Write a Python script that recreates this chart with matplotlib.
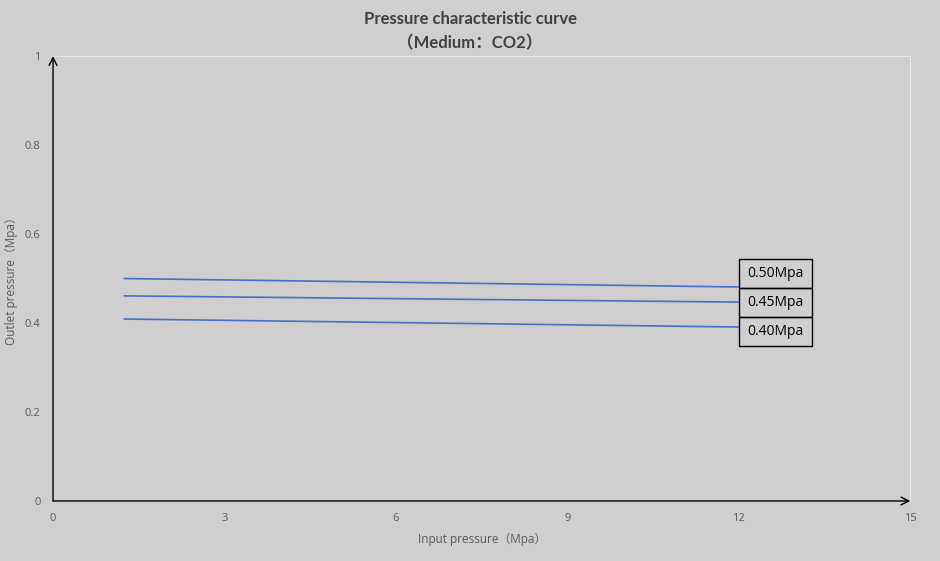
import matplotlib
matplotlib.use("Agg")
import matplotlib.pyplot as plt
from matplotlib.patches import Rectangle

plt.rcParams['font.family'] = ['Open Sans', 'Noto Sans CJK SC', 'DejaVu Sans']

# Data
input_pressure = [1.25, 12.0]
series_labels = ["0.50Mpa", "0.45Mpa", "0.40Mpa"]
outlet_050 = [0.500, 0.481]
outlet_045 = [0.461, 0.447]
outlet_040 = [0.409, 0.391]
x_ticks = [0, 3, 6, 9, 12, 15]
y_ticks = [0, 0.2, 0.4, 0.6, 0.8, 1]
y_tick_labels = ["0", "0.2", "0.4", "0.6", "0.8", "1"]

bg = "#D0CECE"
fig = plt.figure(figsize=(9.4, 5.61), dpi=100, facecolor=bg)
ax = fig.add_axes([0.0564, 0.107, 0.912, 0.793], facecolor=bg)
ax.set_xlim(0, 15)
ax.set_ylim(0, 1)

line_color = "#4472C4"
for ys in (outlet_050, outlet_045, outlet_040):
    ax.plot(input_pressure, ys, color=line_color, lw=1.2)

# label boxes
label_centers = [0.512, 0.447, 0.380]
box_w, box_h = 1.28, 0.065
for lab, yc in zip(series_labels, label_centers):
    ax.add_patch(Rectangle((input_pressure[-1], yc - box_h / 2), box_w, box_h,
                           fill=False, edgecolor="black", lw=1.0, zorder=5, clip_on=False))
    ax.text(input_pressure[-1] + 0.15, yc, lab, ha="left", va="center",
            fontsize=10, color="black", zorder=6)

# spines
for s in ("left", "bottom"):
    ax.spines[s].set_visible(False)
for s in ("top", "right"):
    ax.spines[s].set_color("#E6E6E6")
    ax.spines[s].set_linewidth(0.8)

# axis arrows
ax.annotate("", xy=(15.0, 0), xytext=(0, 0),
            arrowprops=dict(arrowstyle="->", color="black", lw=1.0, shrinkA=0, shrinkB=0,
                            mutation_scale=14), annotation_clip=False)
ax.annotate("", xy=(0, 1.0), xytext=(0, 0),
            arrowprops=dict(arrowstyle="->", color="black", lw=1.0, shrinkA=0, shrinkB=0,
                            mutation_scale=14), annotation_clip=False)

ax.set_xticks(x_ticks)
ax.set_yticks(y_ticks)
ax.set_yticklabels(y_tick_labels)
ax.tick_params(length=0, labelsize=8, labelcolor="#595959", pad=9)

ax.set_xlabel("Input pressure（Mpa）", fontsize=8.5, color="#595959", labelpad=6)
ax.set_ylabel("Outlet pressure（Mpa）", fontsize=8.5, color="#595959", labelpad=10)
ax.yaxis.set_label_coords(-0.041, 0.5)

title_family = ['Lato', 'Noto Sans CJK SC', 'DejaVu Sans']
fig.text(0.5, 0.966, "Pressure characteristic curve", ha="center", va="center",
         fontsize=12, fontweight="bold", color="#404040", family=title_family)
fig.text(0.5, 0.923, "（Medium：CO2）", ha="center", va="center",
         fontsize=12, fontweight="bold", color="#404040", family=title_family)

fig.savefig("out.png", dpi=100, facecolor=bg)
